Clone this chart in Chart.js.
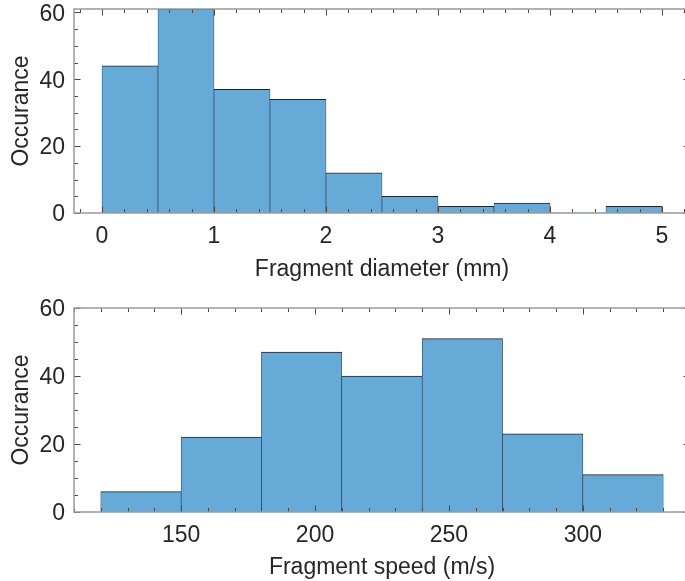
<!DOCTYPE html>
<html><head><meta charset="utf-8">
<script src="https://cdn.jsdelivr.net/npm/chart.js@4/dist/chart.umd.min.js"></script>
<style>
html,body{margin:0;padding:0;background:#fff;overflow:hidden;width:685px;height:581px;position:relative;}
.w{position:absolute;left:0;}
#w1{top:0;}
#w2{top:290px;}
canvas{display:block;}
</style></head><body>
<div class="w" id="w1"><canvas id="c1" width="700" height="290"></canvas></div>
<div class="w" id="w2"><canvas id="c2" width="700" height="295"></canvas></div>
<script>
// ---- data ----
const diameterEdges = [0, 0.5, 1, 1.5, 2, 2.5, 3, 3.5, 4, 4.5, 5];
const diameterCounts = [44, 61, 37, 34, 12, 5, 2, 3, 0, 2];
const diameterTicks = [0, 1, 2, 3, 4, 5];
const speedEdges = [120, 150, 180, 210, 240, 270, 300, 330];
const speedCounts = [6, 22, 47, 40, 51, 23, 11];
const speedTicks = [150, 200, 250, 300];
const countTicks = [0, 20, 40, 60];
const yLabel = 'Occurance';
const diameterLabel = 'Fragment diameter (mm)';
const speedLabel = 'Fragment speed (m/s)';

const FONT = "'Liberation Sans', Arial, Helvetica, sans-serif";
const TXT = '#262626';

const boxTicks = {
  id: 'boxTicks',
  afterDatasetsDraw(chart, args, o) {
    const {ctx, chartArea: a, scales: {x, y}} = chart;
    ctx.save();
    ctx.strokeStyle = '#4a4a4a';
    ctx.lineWidth = 1;
    const seg = (x1, y1, x2, y2) => { ctx.beginPath(); ctx.moveTo(x1, y1); ctx.lineTo(x2, y2); ctx.stroke(); };
    const xt = (v, len) => { const p = Math.round(x.getPixelForValue(v)) + 0.5; seg(p, a.bottom, p, a.bottom - len); seg(p, a.top, p, a.top + len); };
    const yt = (v, len) => { const p = Math.round(y.getPixelForValue(v)) + 0.5; seg(a.left, p, a.left + len, p); seg(a.right, p, a.right - len, p); };
    const minorLoop = (scale, step, fn) => {
      for (let k = Math.ceil(scale.min / step - 1e-9); k <= Math.floor(scale.max / step + 1e-9); k++) fn(+(k * step).toFixed(6), 4);
    };
    minorLoop(x, o.xMinor, xt);
    minorLoop(y, o.yMinor, yt);
    o.xMajor.forEach(v => xt(v, 6.5));
    o.yMajor.forEach(v => yt(v, 6.5));
    ctx.strokeStyle = '#9a9a9a';
    ctx.lineWidth = 1.5;
    ctx.strokeRect(a.left, a.top, a.right - a.left, a.bottom - a.top);
    ctx.restore();
  }
};

function makeHist(id, edges, counts, xTicks, xMin, xMax, xMinor, yMax, plotTop, plotBottom, titleMid, xTitle) {
  const canvas = document.getElementById(id);
  const H = canvas.height;
  const axisBottom = titleMid + 13.8;
  const centers = counts.map((c, i) => ({x: (edges[i] + edges[i + 1]) / 2, y: c}));
  return new Chart(canvas, {
    type: 'bar',
    data: {datasets: [{
      data: centers,
      backgroundColor: '#66aad7',
      borderColor: '#1c2630',
      borderWidth: c => (c.raw && c.raw.y > 0) ? {top: 1, left: 0.6, right: 0.6, bottom: 0} : 0,
      borderSkipped: 'start',
      barPercentage: 1,
      categoryPercentage: 1
    }]},
    options: {
      responsive: false,
      devicePixelRatio: 1,
      animation: false,
      events: [],
      layout: {padding: {top: plotTop, right: 10, left: 0, bottom: H - axisBottom}},
      plugins: {legend: {display: false}, tooltip: {enabled: false},
        boxTicks: {xMajor: xTicks, yMajor: countTicks, xMinor: xMinor, yMinor: 5}},
      scales: {
        x: {
          type: 'linear', min: xMin, max: xMax, offset: false,
          grid: {display: false, drawTicks: false}, border: {display: false},
          ticks: {font: {family: FONT, size: 23}, color: TXT, padding: 10, maxRotation: 0,
            callback: v => String(v)},
          afterBuildTicks: s => { s.ticks = xTicks.map(v => ({value: v})); },
          afterFit: s => { s.height = axisBottom - plotBottom; s.paddingLeft = 0; s.paddingRight = 0; },
          title: {display: true, text: xTitle, font: {family: FONT, size: 23}, color: TXT, padding: {top: 0, bottom: 0}}
        },
        y: {
          type: 'linear', min: 0, max: yMax,
          grid: {display: false, drawTicks: false}, border: {display: false},
          ticks: {font: {family: FONT, size: 23}, color: TXT, padding: 9, labelOffset: 2,
            callback: v => String(v)},
          afterBuildTicks: s => { s.ticks = countTicks.map(v => ({value: v})); },
          afterFit: s => { s.width = 74; s.paddingTop = 0; s.paddingBottom = 0; },
          title: {display: true, text: yLabel, font: {family: FONT, size: 23}, color: TXT, padding: {top: 8, bottom: 0}}
        }
      }
    },
    plugins: [boxTicks]
  });
}

makeHist('c1', diameterEdges, diameterCounts, diameterTicks, -0.25, 5.25, 0.2, 61, 9, 213, 269.4, diameterLabel);
makeHist('c2', speedEdges, speedCounts, speedTicks, 110, 340, 10, 60, 18, 222, 277.6, speedLabel);
</script>
</body></html>
